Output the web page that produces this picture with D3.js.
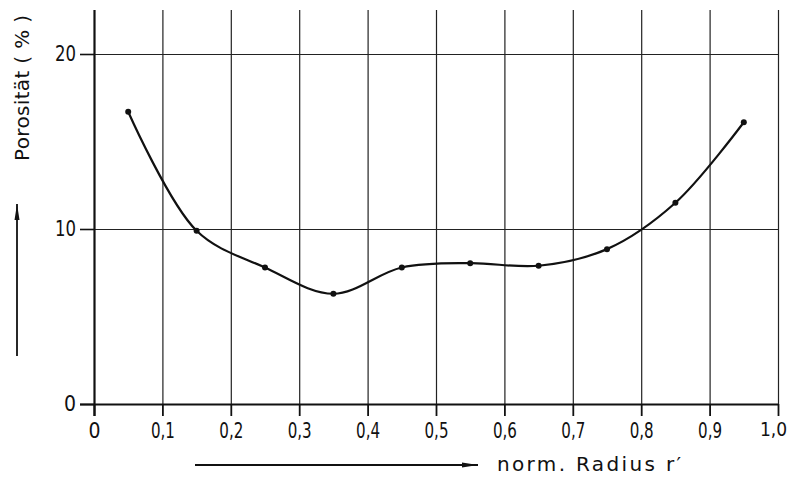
<!DOCTYPE html>
<html>
<head>
<meta charset="utf-8">
<script src="https://cdn.jsdelivr.net/npm/d3@7"></script>
<style>
  body { margin: 0; background: #fff; }
  svg { display: block; }
  .lbl { font-family: "DejaVu Sans Condensed", "Liberation Sans Narrow", sans-serif; fill: #111; }
  .ttl { font-family: "DejaVu Sans", sans-serif; fill: #111; }
</style>
</head>
<body>
<div class="chart"></div>
<script>
// Messpunkte: normierter Radius r' und Porosität (%)
var radius = [0.05, 0.15, 0.25, 0.35, 0.45, 0.55, 0.65, 0.75, 0.85, 0.95];
var porositaet = [16.7, 9.9, 7.8, 6.3, 7.8, 8.05, 7.9, 8.85, 11.5, 16.1];
var xTicks = [0, 0.1, 0.2, 0.3, 0.4, 0.5, 0.6, 0.7, 0.8, 0.9, 1.0];
var yTicks = [0, 10, 20];

var W = 791, H = 477;
var x = d3.scaleLinear().domain([0, 1]).range([94, 778]);
var y = d3.scaleLinear().domain([0, 20]).range([404, 54]);
var yTop = 10;

var svg = d3.select(".chart").append("svg")
    .attr("width", W)
    .attr("height", H);

// vertical grid
svg.append("g")
  .attr("transform", `translate(0, ${y(0)})`)
  .call(d3.axisBottom(x).tickValues(xTicks.slice(1)).tickSize(-(y(0) - yTop)).tickFormat(""))
  .call(g => g.select(".domain").remove())
  .selectAll("line").attr("stroke", "#222").attr("stroke-width", 1.2);

// horizontal grid
svg.append("g")
  .attr("transform", `translate(${x(0)}, 0)`)
  .call(d3.axisRight(y).tickValues([10, 20]).tickSize(x(1) - x(0)).tickFormat(""))
  .call(g => g.select(".domain").remove())
  .selectAll("line").attr("stroke", "#222").attr("stroke-width", 1.2);

// x axis
var fmt = d => d === 0 ? "0" : d3.format(".1f")(d).replace(".", ",");
var xa = svg.append("g")
  .attr("transform", `translate(0, ${y(0)})`)
  .call(d3.axisBottom(x).tickValues(xTicks).tickSize(12).tickSizeOuter(0).tickPadding(7).tickFormat(fmt));
xa.select(".domain").attr("stroke", "#111").attr("stroke-width", 2)
  .attr("d", `M${80},0.5H${x(1)}`);
xa.selectAll("line").attr("stroke", "#111").attr("stroke-width", 1.8);
xa.selectAll("text").attr("class", "lbl").attr("font-size", 21)
  .filter(d => d > 0 && d < 1)
  .attr("textLength", 24)
  .attr("lengthAdjust", "spacingAndGlyphs");
// last label sits at the window edge
xa.selectAll("text").filter(d => d === 1)
  .attr("font-size", 19)
  .attr("dx", -5);

// y axis
var ya = svg.append("g")
  .attr("transform", `translate(${x(0)}, 0)`)
  .call(d3.axisLeft(y).tickValues(yTicks).tickSize(14).tickSizeOuter(0).tickPadding(4));
ya.select(".domain").attr("stroke", "#111").attr("stroke-width", 2.2)
  .attr("d", `M0.5,${yTop}V${y(0) + 12}`);
ya.selectAll("line").attr("stroke", "#111").attr("stroke-width", 1.6);
ya.selectAll("text").attr("class", "lbl").attr("font-size", 21)
  .filter(d => d > 0)
  .attr("textLength", 21)
  .attr("lengthAdjust", "spacingAndGlyphs");

// curve
var line = d3.line()
  .x((d, i) => x(radius[i]))
  .y(d => y(d))
  .curve(d3.curveCatmullRom.alpha(0.5));
svg.append("path")
  .datum(porositaet)
  .attr("d", line)
  .attr("fill", "none")
  .attr("stroke", "#111")
  .attr("stroke-width", 2.2);

svg.selectAll(".pt")
  .data(porositaet)
  .enter().append("circle")
  .attr("class", "pt")
  .attr("cx", (d, i) => x(radius[i]))
  .attr("cy", d => y(d))
  .attr("r", 3)
  .attr("fill", "#111");

// arrow heads
svg.append("defs").append("marker")
  .attr("id", "arr")
  .attr("viewBox", "0 0 16 6")
  .attr("refX", 16).attr("refY", 3)
  .attr("markerWidth", 16).attr("markerHeight", 6)
  .attr("markerUnits", "userSpaceOnUse")
  .attr("orient", "auto")
  .append("path")
  .attr("d", "M0,0.5L16,3L0,5.5Z")
  .attr("fill", "#111");

// y title
svg.append("line")
  .attr("x1", 17).attr("y1", 356).attr("x2", 17).attr("y2", 204)
  .attr("stroke", "#111").attr("stroke-width", 1.8)
  .attr("marker-end", "url(#arr)");
svg.append("text")
  .attr("class", "ttl")
  .attr("transform", "translate(29, 161) rotate(-90)")
  .attr("font-size", 20)
  .attr("textLength", 146)
  .attr("lengthAdjust", "spacing")
  .text("Porosität  ( % )");

// x title
svg.append("line")
  .attr("x1", 195).attr("y1", 465).attr("x2", 478).attr("y2", 465)
  .attr("stroke", "#111").attr("stroke-width", 1.8)
  .attr("marker-end", "url(#arr)");
svg.append("text")
  .attr("class", "ttl")
  .attr("x", 497).attr("y", 471)
  .attr("font-size", 20)
  .attr("textLength", 184)
  .attr("lengthAdjust", "spacing")
  .text("norm. Radius  r\u2032");
</script>
</body>
</html>
